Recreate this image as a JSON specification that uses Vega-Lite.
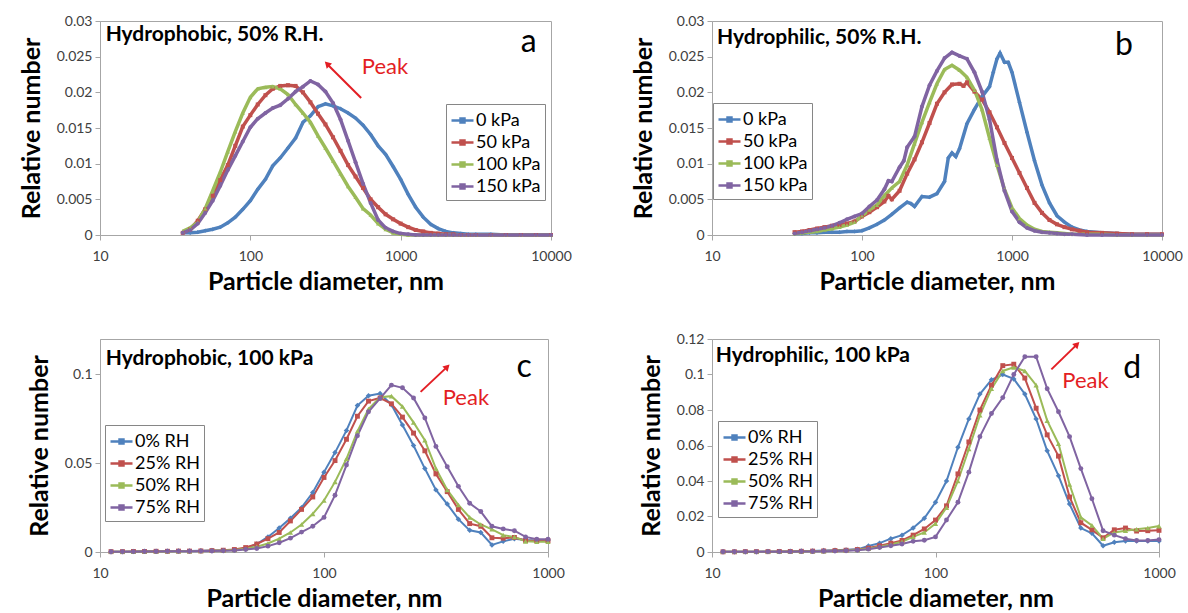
{
"$schema":"https://vega.github.io/schema/vega-lite/v6.json",
"background":"white",
"padding":{"left":18,"top":13,"right":0,"bottom":0},
"config":{
 "font":"Lato",
 "view":{"stroke":"#a6a6a6","strokeWidth":1},
 "axis":{"grid":false,"domainColor":"#a6a6a6","tickColor":"#a6a6a6","tickSize":5,"labelFont":"Lato","labelFontSize":14,"labelColor":"#404040","titleFont":"Lato","titleFontSize":25,"titleFontWeight":"bold","titleColor":"#000","labelFlush":false,"labelOverlap":false,"labelBound":false},
 "axisX":{"labelPadding":9,"titlePadding":6},
 "axisY":{"labelPadding":3,"titlePadding":12},
 "legend":{"title":null,"orient":"none","strokeColor":"#868686","fillColor":"white","padding":4,"rowPadding":0,"labelFontSize":18,"labelFont":"Lato","labelColor":"#000","labelOffset":1}
},
"datasets":{
"a":[
{"s":"0 kPa","x":35.5,"y":0.0003},{"s":"0 kPa","x":39.8,"y":0.0003},{"s":"0 kPa","x":44.7,"y":0.0004},{"s":"0 kPa","x":50.1,"y":0.0006},{"s":"0 kPa","x":56.2,"y":0.0008},{"s":"0 kPa","x":63.1,"y":0.0011},{"s":"0 kPa","x":70.8,"y":0.0017},{"s":"0 kPa","x":79.4,"y":0.0025},{"s":"0 kPa","x":89.1,"y":0.0036},{"s":"0 kPa","x":100,"y":0.0048},{"s":"0 kPa","x":112,"y":0.0064},{"s":"0 kPa","x":126,"y":0.0078},{"s":"0 kPa","x":141,"y":0.0097},{"s":"0 kPa","x":158,"y":0.0108},{"s":"0 kPa","x":178,"y":0.0122},{"s":"0 kPa","x":200,"y":0.0136},{"s":"0 kPa","x":224,"y":0.0158},{"s":"0 kPa","x":251,"y":0.0167},{"s":"0 kPa","x":282,"y":0.018},{"s":"0 kPa","x":316,"y":0.0184},{"s":"0 kPa","x":355,"y":0.0181},{"s":"0 kPa","x":398,"y":0.0177},{"s":"0 kPa","x":447,"y":0.0171},{"s":"0 kPa","x":501,"y":0.0164},{"s":"0 kPa","x":562,"y":0.0154},{"s":"0 kPa","x":631,"y":0.0141},{"s":"0 kPa","x":708,"y":0.0125},{"s":"0 kPa","x":794,"y":0.0113},{"s":"0 kPa","x":891,"y":0.0096},{"s":"0 kPa","x":1000,"y":0.0078},{"s":"0 kPa","x":1122,"y":0.0057},{"s":"0 kPa","x":1259,"y":0.0039},{"s":"0 kPa","x":1413,"y":0.0025},{"s":"0 kPa","x":1585,"y":0.0015},{"s":"0 kPa","x":1778,"y":0.0009},{"s":"0 kPa","x":1995,"y":0.0005},{"s":"0 kPa","x":2239,"y":0.0003},{"s":"0 kPa","x":2512,"y":0.0002},{"s":"0 kPa","x":2818,"y":0.0001},{"s":"0 kPa","x":3162,"y":0.0001},{"s":"0 kPa","x":3981,"y":0.0001},{"s":"0 kPa","x":5012,"y":0},{"s":"0 kPa","x":6310,"y":0},{"s":"0 kPa","x":7943,"y":0},{"s":"0 kPa","x":10000,"y":0},
{"s":"50 kPa","x":35.5,"y":0.0003},{"s":"50 kPa","x":39.8,"y":0.0008},{"s":"50 kPa","x":44.7,"y":0.002},{"s":"50 kPa","x":50.1,"y":0.0036},{"s":"50 kPa","x":56.2,"y":0.0055},{"s":"50 kPa","x":63.1,"y":0.0077},{"s":"50 kPa","x":70.8,"y":0.0098},{"s":"50 kPa","x":79.4,"y":0.0125},{"s":"50 kPa","x":89.1,"y":0.0152},{"s":"50 kPa","x":100,"y":0.0168},{"s":"50 kPa","x":112,"y":0.0183},{"s":"50 kPa","x":126,"y":0.0196},{"s":"50 kPa","x":141,"y":0.0205},{"s":"50 kPa","x":158,"y":0.0209},{"s":"50 kPa","x":178,"y":0.021},{"s":"50 kPa","x":200,"y":0.0209},{"s":"50 kPa","x":224,"y":0.02},{"s":"50 kPa","x":251,"y":0.0186},{"s":"50 kPa","x":282,"y":0.017},{"s":"50 kPa","x":316,"y":0.0155},{"s":"50 kPa","x":355,"y":0.0137},{"s":"50 kPa","x":398,"y":0.0118},{"s":"50 kPa","x":447,"y":0.0098},{"s":"50 kPa","x":501,"y":0.0082},{"s":"50 kPa","x":562,"y":0.0066},{"s":"50 kPa","x":631,"y":0.005},{"s":"50 kPa","x":708,"y":0.0039},{"s":"50 kPa","x":794,"y":0.0029},{"s":"50 kPa","x":891,"y":0.0022},{"s":"50 kPa","x":1000,"y":0.0016},{"s":"50 kPa","x":1122,"y":0.0011},{"s":"50 kPa","x":1259,"y":0.0007},{"s":"50 kPa","x":1413,"y":0.0005},{"s":"50 kPa","x":1585,"y":0.0003},{"s":"50 kPa","x":1778,"y":0.0002},{"s":"50 kPa","x":1995,"y":0.0001},{"s":"50 kPa","x":2239,"y":0.0001},{"s":"50 kPa","x":2512,"y":0},{"s":"50 kPa","x":2818,"y":0},{"s":"50 kPa","x":3162,"y":0},{"s":"50 kPa","x":3981,"y":0},{"s":"50 kPa","x":5012,"y":0},{"s":"50 kPa","x":6310,"y":0},{"s":"50 kPa","x":7943,"y":0},{"s":"50 kPa","x":10000,"y":0},
{"s":"100 kPa","x":35.5,"y":0.0005},{"s":"100 kPa","x":39.8,"y":0.001},{"s":"100 kPa","x":44.7,"y":0.0018},{"s":"100 kPa","x":50.1,"y":0.0037},{"s":"100 kPa","x":56.2,"y":0.0062},{"s":"100 kPa","x":63.1,"y":0.0088},{"s":"100 kPa","x":70.8,"y":0.0117},{"s":"100 kPa","x":79.4,"y":0.0145},{"s":"100 kPa","x":89.1,"y":0.0171},{"s":"100 kPa","x":100,"y":0.0193},{"s":"100 kPa","x":112,"y":0.0205},{"s":"100 kPa","x":126,"y":0.0207},{"s":"100 kPa","x":141,"y":0.0208},{"s":"100 kPa","x":158,"y":0.0205},{"s":"100 kPa","x":178,"y":0.0197},{"s":"100 kPa","x":200,"y":0.0183},{"s":"100 kPa","x":224,"y":0.0171},{"s":"100 kPa","x":251,"y":0.0158},{"s":"100 kPa","x":282,"y":0.0139},{"s":"100 kPa","x":316,"y":0.0122},{"s":"100 kPa","x":355,"y":0.0104},{"s":"100 kPa","x":398,"y":0.0086},{"s":"100 kPa","x":447,"y":0.0068},{"s":"100 kPa","x":501,"y":0.0053},{"s":"100 kPa","x":562,"y":0.0037},{"s":"100 kPa","x":631,"y":0.0028},{"s":"100 kPa","x":708,"y":0.0016},{"s":"100 kPa","x":794,"y":0.0008},{"s":"100 kPa","x":891,"y":0.0003},{"s":"100 kPa","x":1000,"y":0.0001},{"s":"100 kPa","x":1122,"y":0},{"s":"100 kPa","x":1259,"y":0},{"s":"100 kPa","x":1413,"y":0},{"s":"100 kPa","x":1585,"y":0},{"s":"100 kPa","x":1778,"y":0},{"s":"100 kPa","x":1995,"y":0},{"s":"100 kPa","x":2239,"y":0},{"s":"100 kPa","x":2512,"y":0},{"s":"100 kPa","x":2818,"y":0},{"s":"100 kPa","x":3162,"y":0},{"s":"100 kPa","x":3981,"y":0},{"s":"100 kPa","x":5012,"y":0},{"s":"100 kPa","x":6310,"y":0},{"s":"100 kPa","x":7943,"y":0},{"s":"100 kPa","x":10000,"y":0},
{"s":"150 kPa","x":35.5,"y":0.0003},{"s":"150 kPa","x":39.8,"y":0.0007},{"s":"150 kPa","x":44.7,"y":0.0016},{"s":"150 kPa","x":50.1,"y":0.0031},{"s":"150 kPa","x":56.2,"y":0.0048},{"s":"150 kPa","x":63.1,"y":0.0069},{"s":"150 kPa","x":70.8,"y":0.0091},{"s":"150 kPa","x":79.4,"y":0.0111},{"s":"150 kPa","x":89.1,"y":0.0131},{"s":"150 kPa","x":100,"y":0.0151},{"s":"150 kPa","x":112,"y":0.0163},{"s":"150 kPa","x":126,"y":0.0171},{"s":"150 kPa","x":141,"y":0.0178},{"s":"150 kPa","x":158,"y":0.0182},{"s":"150 kPa","x":178,"y":0.0191},{"s":"150 kPa","x":200,"y":0.0201},{"s":"150 kPa","x":224,"y":0.0208},{"s":"150 kPa","x":251,"y":0.0216},{"s":"150 kPa","x":282,"y":0.0211},{"s":"150 kPa","x":316,"y":0.0201},{"s":"150 kPa","x":355,"y":0.0185},{"s":"150 kPa","x":398,"y":0.0162},{"s":"150 kPa","x":447,"y":0.0132},{"s":"150 kPa","x":501,"y":0.0102},{"s":"150 kPa","x":562,"y":0.0072},{"s":"150 kPa","x":631,"y":0.0045},{"s":"150 kPa","x":708,"y":0.0021},{"s":"150 kPa","x":794,"y":0.001},{"s":"150 kPa","x":891,"y":0.0005},{"s":"150 kPa","x":1000,"y":0.0002},{"s":"150 kPa","x":1122,"y":0.0001},{"s":"150 kPa","x":1259,"y":0},{"s":"150 kPa","x":1413,"y":0},{"s":"150 kPa","x":1585,"y":0},{"s":"150 kPa","x":1778,"y":0},{"s":"150 kPa","x":1995,"y":0},{"s":"150 kPa","x":2239,"y":0},{"s":"150 kPa","x":2512,"y":0},{"s":"150 kPa","x":2818,"y":0},{"s":"150 kPa","x":3162,"y":0},{"s":"150 kPa","x":3981,"y":0},{"s":"150 kPa","x":5012,"y":0},{"s":"150 kPa","x":6310,"y":0},{"s":"150 kPa","x":7943,"y":0},{"s":"150 kPa","x":10000,"y":0}
],
"b":[
{"s":"0 kPa","x":35.5,"y":0.0002},{"s":"0 kPa","x":39.8,"y":0.0002},{"s":"0 kPa","x":44.7,"y":0.0003},{"s":"0 kPa","x":50.1,"y":0.0003},{"s":"0 kPa","x":56.2,"y":0.0004},{"s":"0 kPa","x":63.1,"y":0.0004},{"s":"0 kPa","x":70.8,"y":0.0004},{"s":"0 kPa","x":79.4,"y":0.0005},{"s":"0 kPa","x":89.1,"y":0.0005},{"s":"0 kPa","x":100,"y":0.0006},{"s":"0 kPa","x":112,"y":0.001},{"s":"0 kPa","x":126,"y":0.0015},{"s":"0 kPa","x":141,"y":0.0021},{"s":"0 kPa","x":158,"y":0.0029},{"s":"0 kPa","x":178,"y":0.0038},{"s":"0 kPa","x":200,"y":0.0046},{"s":"0 kPa","x":212,"y":0.0044},{"s":"0 kPa","x":224,"y":0.004},{"s":"0 kPa","x":251,"y":0.0054},{"s":"0 kPa","x":282,"y":0.0053},{"s":"0 kPa","x":316,"y":0.0058},{"s":"0 kPa","x":355,"y":0.0075},{"s":"0 kPa","x":376,"y":0.0108},{"s":"0 kPa","x":398,"y":0.0115},{"s":"0 kPa","x":422,"y":0.011},{"s":"0 kPa","x":447,"y":0.0121},{"s":"0 kPa","x":501,"y":0.0156},{"s":"0 kPa","x":562,"y":0.0176},{"s":"0 kPa","x":631,"y":0.0194},{"s":"0 kPa","x":708,"y":0.0208},{"s":"0 kPa","x":750,"y":0.0228},{"s":"0 kPa","x":794,"y":0.0247},{"s":"0 kPa","x":832,"y":0.0255},{"s":"0 kPa","x":891,"y":0.0242},{"s":"0 kPa","x":944,"y":0.0242},{"s":"0 kPa","x":1000,"y":0.0228},{"s":"0 kPa","x":1122,"y":0.0186},{"s":"0 kPa","x":1259,"y":0.0144},{"s":"0 kPa","x":1413,"y":0.0104},{"s":"0 kPa","x":1585,"y":0.007},{"s":"0 kPa","x":1778,"y":0.0045},{"s":"0 kPa","x":1995,"y":0.0027},{"s":"0 kPa","x":2239,"y":0.0018},{"s":"0 kPa","x":2512,"y":0.0011},{"s":"0 kPa","x":2818,"y":0.0007},{"s":"0 kPa","x":3162,"y":0.0005},{"s":"0 kPa","x":3981,"y":0.0003},{"s":"0 kPa","x":5012,"y":0.0002},{"s":"0 kPa","x":6310,"y":0.0001},{"s":"0 kPa","x":7943,"y":0.0001},{"s":"0 kPa","x":10000,"y":0.0001},
{"s":"50 kPa","x":35.5,"y":0.0004},{"s":"50 kPa","x":39.8,"y":0.0005},{"s":"50 kPa","x":44.7,"y":0.0007},{"s":"50 kPa","x":50.1,"y":0.0009},{"s":"50 kPa","x":56.2,"y":0.0011},{"s":"50 kPa","x":63.1,"y":0.0013},{"s":"50 kPa","x":70.8,"y":0.0014},{"s":"50 kPa","x":79.4,"y":0.0016},{"s":"50 kPa","x":89.1,"y":0.0019},{"s":"50 kPa","x":100,"y":0.0026},{"s":"50 kPa","x":112,"y":0.0032},{"s":"50 kPa","x":126,"y":0.0039},{"s":"50 kPa","x":141,"y":0.0047},{"s":"50 kPa","x":150,"y":0.0055},{"s":"50 kPa","x":158,"y":0.005},{"s":"50 kPa","x":178,"y":0.0062},{"s":"50 kPa","x":200,"y":0.0086},{"s":"50 kPa","x":224,"y":0.0106},{"s":"50 kPa","x":251,"y":0.013},{"s":"50 kPa","x":282,"y":0.0157},{"s":"50 kPa","x":316,"y":0.0184},{"s":"50 kPa","x":355,"y":0.02},{"s":"50 kPa","x":398,"y":0.0211},{"s":"50 kPa","x":447,"y":0.0212},{"s":"50 kPa","x":475,"y":0.0209},{"s":"50 kPa","x":501,"y":0.0214},{"s":"50 kPa","x":562,"y":0.0201},{"s":"50 kPa","x":631,"y":0.019},{"s":"50 kPa","x":708,"y":0.0172},{"s":"50 kPa","x":794,"y":0.0151},{"s":"50 kPa","x":891,"y":0.0129},{"s":"50 kPa","x":1000,"y":0.0108},{"s":"50 kPa","x":1122,"y":0.0087},{"s":"50 kPa","x":1259,"y":0.0066},{"s":"50 kPa","x":1413,"y":0.0045},{"s":"50 kPa","x":1585,"y":0.0031},{"s":"50 kPa","x":1778,"y":0.0021},{"s":"50 kPa","x":1995,"y":0.0015},{"s":"50 kPa","x":2239,"y":0.0011},{"s":"50 kPa","x":2512,"y":0.0008},{"s":"50 kPa","x":2818,"y":0.0006},{"s":"50 kPa","x":3162,"y":0.0004},{"s":"50 kPa","x":3981,"y":0.0003},{"s":"50 kPa","x":5012,"y":0.0002},{"s":"50 kPa","x":6310,"y":0.0001},{"s":"50 kPa","x":7943,"y":0.0001},{"s":"50 kPa","x":10000,"y":0.0001},
{"s":"100 kPa","x":35.5,"y":0.0002},{"s":"100 kPa","x":39.8,"y":0.0003},{"s":"100 kPa","x":44.7,"y":0.0004},{"s":"100 kPa","x":50.1,"y":0.0005},{"s":"100 kPa","x":56.2,"y":0.0007},{"s":"100 kPa","x":63.1,"y":0.0009},{"s":"100 kPa","x":70.8,"y":0.0011},{"s":"100 kPa","x":79.4,"y":0.0014},{"s":"100 kPa","x":89.1,"y":0.0018},{"s":"100 kPa","x":100,"y":0.0027},{"s":"100 kPa","x":112,"y":0.0035},{"s":"100 kPa","x":126,"y":0.0042},{"s":"100 kPa","x":141,"y":0.0055},{"s":"100 kPa","x":158,"y":0.0066},{"s":"100 kPa","x":178,"y":0.0075},{"s":"100 kPa","x":200,"y":0.0098},{"s":"100 kPa","x":224,"y":0.0128},{"s":"100 kPa","x":251,"y":0.0158},{"s":"100 kPa","x":282,"y":0.0186},{"s":"100 kPa","x":316,"y":0.0212},{"s":"100 kPa","x":355,"y":0.0232},{"s":"100 kPa","x":398,"y":0.0238},{"s":"100 kPa","x":447,"y":0.0231},{"s":"100 kPa","x":501,"y":0.0221},{"s":"100 kPa","x":562,"y":0.0203},{"s":"100 kPa","x":631,"y":0.0176},{"s":"100 kPa","x":708,"y":0.0136},{"s":"100 kPa","x":794,"y":0.0098},{"s":"100 kPa","x":891,"y":0.0064},{"s":"100 kPa","x":1000,"y":0.0038},{"s":"100 kPa","x":1122,"y":0.0023},{"s":"100 kPa","x":1259,"y":0.0014},{"s":"100 kPa","x":1413,"y":0.0008},{"s":"100 kPa","x":1585,"y":0.0005},{"s":"100 kPa","x":1778,"y":0.0004},{"s":"100 kPa","x":1995,"y":0.0003},{"s":"100 kPa","x":2239,"y":0.0002},{"s":"100 kPa","x":2512,"y":0.0001},{"s":"100 kPa","x":3162,"y":0.0001},{"s":"100 kPa","x":3981,"y":0.0001},{"s":"100 kPa","x":5012,"y":0},{"s":"100 kPa","x":6310,"y":0},{"s":"100 kPa","x":7943,"y":0},{"s":"100 kPa","x":10000,"y":0},
{"s":"150 kPa","x":35.5,"y":0.0002},{"s":"150 kPa","x":39.8,"y":0.0004},{"s":"150 kPa","x":44.7,"y":0.0006},{"s":"150 kPa","x":50.1,"y":0.0008},{"s":"150 kPa","x":56.2,"y":0.001},{"s":"150 kPa","x":63.1,"y":0.0013},{"s":"150 kPa","x":70.8,"y":0.0017},{"s":"150 kPa","x":79.4,"y":0.0022},{"s":"150 kPa","x":89.1,"y":0.0026},{"s":"150 kPa","x":100,"y":0.003},{"s":"150 kPa","x":112,"y":0.004},{"s":"150 kPa","x":126,"y":0.0049},{"s":"150 kPa","x":141,"y":0.0064},{"s":"150 kPa","x":150,"y":0.0076},{"s":"150 kPa","x":158,"y":0.0075},{"s":"150 kPa","x":178,"y":0.0095},{"s":"150 kPa","x":190,"y":0.0104},{"s":"150 kPa","x":200,"y":0.0123},{"s":"150 kPa","x":224,"y":0.0138},{"s":"150 kPa","x":251,"y":0.018},{"s":"150 kPa","x":282,"y":0.021},{"s":"150 kPa","x":316,"y":0.023},{"s":"150 kPa","x":355,"y":0.0248},{"s":"150 kPa","x":398,"y":0.0256},{"s":"150 kPa","x":447,"y":0.0251},{"s":"150 kPa","x":501,"y":0.0247},{"s":"150 kPa","x":562,"y":0.0228},{"s":"150 kPa","x":631,"y":0.0201},{"s":"150 kPa","x":708,"y":0.0162},{"s":"150 kPa","x":794,"y":0.0105},{"s":"150 kPa","x":891,"y":0.0062},{"s":"150 kPa","x":1000,"y":0.0033},{"s":"150 kPa","x":1122,"y":0.0018},{"s":"150 kPa","x":1259,"y":0.001},{"s":"150 kPa","x":1413,"y":0.0006},{"s":"150 kPa","x":1585,"y":0.0004},{"s":"150 kPa","x":1778,"y":0.0003},{"s":"150 kPa","x":1995,"y":0.0002},{"s":"150 kPa","x":2239,"y":0.0001},{"s":"150 kPa","x":2512,"y":0.0001},{"s":"150 kPa","x":3162,"y":0},{"s":"150 kPa","x":3981,"y":0},{"s":"150 kPa","x":5012,"y":0},{"s":"150 kPa","x":6310,"y":0},{"s":"150 kPa","x":7943,"y":0},{"s":"150 kPa","x":10000,"y":0}
],
"c":[
{"s":"0% RH","x":11.2,"y":0.0001},{"s":"0% RH","x":12.6,"y":0.0002},{"s":"0% RH","x":14.1,"y":0.0003},{"s":"0% RH","x":15.8,"y":0.0004},{"s":"0% RH","x":17.8,"y":0.0004},{"s":"0% RH","x":20,"y":0.0004},{"s":"0% RH","x":22.4,"y":0.0005},{"s":"0% RH","x":25.1,"y":0.0006},{"s":"0% RH","x":28.2,"y":0.0007},{"s":"0% RH","x":31.6,"y":0.0008},{"s":"0% RH","x":35.5,"y":0.0009},{"s":"0% RH","x":39.8,"y":0.0012},{"s":"0% RH","x":44.7,"y":0.002},{"s":"0% RH","x":50.1,"y":0.0045},{"s":"0% RH","x":56.2,"y":0.0085},{"s":"0% RH","x":63.1,"y":0.0135},{"s":"0% RH","x":70.8,"y":0.019},{"s":"0% RH","x":79.4,"y":0.025},{"s":"0% RH","x":89.1,"y":0.0335},{"s":"0% RH","x":100,"y":0.045},{"s":"0% RH","x":112,"y":0.056},{"s":"0% RH","x":126,"y":0.0685},{"s":"0% RH","x":141,"y":0.0825},{"s":"0% RH","x":158,"y":0.088},{"s":"0% RH","x":178,"y":0.0893},{"s":"0% RH","x":200,"y":0.083},{"s":"0% RH","x":224,"y":0.0715},{"s":"0% RH","x":251,"y":0.06},{"s":"0% RH","x":282,"y":0.047},{"s":"0% RH","x":316,"y":0.035},{"s":"0% RH","x":355,"y":0.027},{"s":"0% RH","x":398,"y":0.0185},{"s":"0% RH","x":447,"y":0.0122},{"s":"0% RH","x":501,"y":0.011},{"s":"0% RH","x":562,"y":0.004},{"s":"0% RH","x":631,"y":0.006},{"s":"0% RH","x":708,"y":0.0075},{"s":"0% RH","x":794,"y":0.0068},{"s":"0% RH","x":891,"y":0.0065},{"s":"0% RH","x":1000,"y":0.0065},
{"s":"25% RH","x":11.2,"y":0.0002},{"s":"25% RH","x":12.6,"y":0.0002},{"s":"25% RH","x":14.1,"y":0.0003},{"s":"25% RH","x":15.8,"y":0.0003},{"s":"25% RH","x":17.8,"y":0.0004},{"s":"25% RH","x":20,"y":0.0004},{"s":"25% RH","x":22.4,"y":0.0005},{"s":"25% RH","x":25.1,"y":0.0005},{"s":"25% RH","x":28.2,"y":0.0006},{"s":"25% RH","x":31.6,"y":0.0008},{"s":"25% RH","x":35.5,"y":0.001},{"s":"25% RH","x":39.8,"y":0.0014},{"s":"25% RH","x":44.7,"y":0.0025},{"s":"25% RH","x":50.1,"y":0.0045},{"s":"25% RH","x":56.2,"y":0.0075},{"s":"25% RH","x":63.1,"y":0.011},{"s":"25% RH","x":70.8,"y":0.0175},{"s":"25% RH","x":79.4,"y":0.024},{"s":"25% RH","x":89.1,"y":0.031},{"s":"25% RH","x":100,"y":0.042},{"s":"25% RH","x":112,"y":0.0515},{"s":"25% RH","x":126,"y":0.0635},{"s":"25% RH","x":141,"y":0.0765},{"s":"25% RH","x":158,"y":0.085},{"s":"25% RH","x":178,"y":0.0868},{"s":"25% RH","x":200,"y":0.0835},{"s":"25% RH","x":224,"y":0.076},{"s":"25% RH","x":251,"y":0.067},{"s":"25% RH","x":282,"y":0.057},{"s":"25% RH","x":316,"y":0.044},{"s":"25% RH","x":355,"y":0.034},{"s":"25% RH","x":398,"y":0.024},{"s":"25% RH","x":447,"y":0.016},{"s":"25% RH","x":501,"y":0.0145},{"s":"25% RH","x":562,"y":0.008},{"s":"25% RH","x":631,"y":0.0078},{"s":"25% RH","x":708,"y":0.0082},{"s":"25% RH","x":794,"y":0.0065},{"s":"25% RH","x":891,"y":0.0064},{"s":"25% RH","x":1000,"y":0.0064},
{"s":"50% RH","x":11.2,"y":0.0001},{"s":"50% RH","x":12.6,"y":0.0002},{"s":"50% RH","x":14.1,"y":0.0002},{"s":"50% RH","x":15.8,"y":0.0003},{"s":"50% RH","x":17.8,"y":0.0003},{"s":"50% RH","x":20,"y":0.0004},{"s":"50% RH","x":22.4,"y":0.0004},{"s":"50% RH","x":25.1,"y":0.0005},{"s":"50% RH","x":28.2,"y":0.0006},{"s":"50% RH","x":31.6,"y":0.0007},{"s":"50% RH","x":35.5,"y":0.0009},{"s":"50% RH","x":39.8,"y":0.0011},{"s":"50% RH","x":44.7,"y":0.0018},{"s":"50% RH","x":50.1,"y":0.003},{"s":"50% RH","x":56.2,"y":0.0048},{"s":"50% RH","x":63.1,"y":0.0075},{"s":"50% RH","x":70.8,"y":0.011},{"s":"50% RH","x":79.4,"y":0.0155},{"s":"50% RH","x":89.1,"y":0.0215},{"s":"50% RH","x":100,"y":0.029},{"s":"50% RH","x":112,"y":0.0395},{"s":"50% RH","x":126,"y":0.0525},{"s":"50% RH","x":141,"y":0.068},{"s":"50% RH","x":158,"y":0.0805},{"s":"50% RH","x":178,"y":0.0872},{"s":"50% RH","x":200,"y":0.0878},{"s":"50% RH","x":224,"y":0.082},{"s":"50% RH","x":251,"y":0.073},{"s":"50% RH","x":282,"y":0.063},{"s":"50% RH","x":316,"y":0.047},{"s":"50% RH","x":355,"y":0.035},{"s":"50% RH","x":398,"y":0.0265},{"s":"50% RH","x":447,"y":0.0195},{"s":"50% RH","x":501,"y":0.0155},{"s":"50% RH","x":562,"y":0.0128},{"s":"50% RH","x":631,"y":0.0095},{"s":"50% RH","x":708,"y":0.0085},{"s":"50% RH","x":794,"y":0.006},{"s":"50% RH","x":891,"y":0.0058},{"s":"50% RH","x":1000,"y":0.0058},
{"s":"75% RH","x":11.2,"y":0.0001},{"s":"75% RH","x":12.6,"y":0.0002},{"s":"75% RH","x":14.1,"y":0.0002},{"s":"75% RH","x":15.8,"y":0.0003},{"s":"75% RH","x":17.8,"y":0.0003},{"s":"75% RH","x":20,"y":0.0004},{"s":"75% RH","x":22.4,"y":0.0004},{"s":"75% RH","x":25.1,"y":0.0004},{"s":"75% RH","x":28.2,"y":0.0005},{"s":"75% RH","x":31.6,"y":0.0006},{"s":"75% RH","x":35.5,"y":0.0007},{"s":"75% RH","x":39.8,"y":0.0009},{"s":"75% RH","x":44.7,"y":0.0014},{"s":"75% RH","x":50.1,"y":0.002},{"s":"75% RH","x":56.2,"y":0.0033},{"s":"75% RH","x":63.1,"y":0.0052},{"s":"75% RH","x":70.8,"y":0.0078},{"s":"75% RH","x":79.4,"y":0.0112},{"s":"75% RH","x":89.1,"y":0.0145},{"s":"75% RH","x":100,"y":0.0195},{"s":"75% RH","x":112,"y":0.032},{"s":"75% RH","x":126,"y":0.049},{"s":"75% RH","x":141,"y":0.0655},{"s":"75% RH","x":158,"y":0.079},{"s":"75% RH","x":178,"y":0.0865},{"s":"75% RH","x":200,"y":0.094},{"s":"75% RH","x":224,"y":0.0925},{"s":"75% RH","x":251,"y":0.0868},{"s":"75% RH","x":282,"y":0.0755},{"s":"75% RH","x":316,"y":0.0595},{"s":"75% RH","x":355,"y":0.048},{"s":"75% RH","x":398,"y":0.037},{"s":"75% RH","x":447,"y":0.0275},{"s":"75% RH","x":501,"y":0.0228},{"s":"75% RH","x":562,"y":0.0145},{"s":"75% RH","x":631,"y":0.013},{"s":"75% RH","x":708,"y":0.012},{"s":"75% RH","x":794,"y":0.0085},{"s":"75% RH","x":891,"y":0.0072},{"s":"75% RH","x":1000,"y":0.0072}
],
"d":[
{"s":"0% RH","x":11.2,"y":0.0002},{"s":"0% RH","x":12.6,"y":0.0002},{"s":"0% RH","x":14.1,"y":0.0002},{"s":"0% RH","x":15.8,"y":0.0002},{"s":"0% RH","x":17.8,"y":0.0003},{"s":"0% RH","x":20,"y":0.0003},{"s":"0% RH","x":22.4,"y":0.0004},{"s":"0% RH","x":25.1,"y":0.0005},{"s":"0% RH","x":28.2,"y":0.0006},{"s":"0% RH","x":31.6,"y":0.0008},{"s":"0% RH","x":35.5,"y":0.001},{"s":"0% RH","x":39.8,"y":0.0012},{"s":"0% RH","x":44.7,"y":0.0015},{"s":"0% RH","x":50.1,"y":0.0034},{"s":"0% RH","x":56.2,"y":0.005},{"s":"0% RH","x":63.1,"y":0.0075},{"s":"0% RH","x":70.8,"y":0.0095},{"s":"0% RH","x":79.4,"y":0.0135},{"s":"0% RH","x":89.1,"y":0.019},{"s":"0% RH","x":100,"y":0.028},{"s":"0% RH","x":112,"y":0.04},{"s":"0% RH","x":126,"y":0.059},{"s":"0% RH","x":141,"y":0.075},{"s":"0% RH","x":158,"y":0.089},{"s":"0% RH","x":178,"y":0.097},{"s":"0% RH","x":200,"y":0.1},{"s":"0% RH","x":224,"y":0.0975},{"s":"0% RH","x":251,"y":0.089},{"s":"0% RH","x":282,"y":0.075},{"s":"0% RH","x":316,"y":0.057},{"s":"0% RH","x":355,"y":0.043},{"s":"0% RH","x":398,"y":0.027},{"s":"0% RH","x":447,"y":0.0135},{"s":"0% RH","x":501,"y":0.0105},{"s":"0% RH","x":562,"y":0.0035},{"s":"0% RH","x":631,"y":0.0055},{"s":"0% RH","x":708,"y":0.0062},{"s":"0% RH","x":794,"y":0.0062},{"s":"0% RH","x":891,"y":0.0062},{"s":"0% RH","x":1000,"y":0.0062},
{"s":"25% RH","x":11.2,"y":0.0001},{"s":"25% RH","x":12.6,"y":0.0001},{"s":"25% RH","x":14.1,"y":0.0002},{"s":"25% RH","x":15.8,"y":0.0002},{"s":"25% RH","x":17.8,"y":0.0002},{"s":"25% RH","x":20,"y":0.0003},{"s":"25% RH","x":22.4,"y":0.0003},{"s":"25% RH","x":25.1,"y":0.0004},{"s":"25% RH","x":28.2,"y":0.0005},{"s":"25% RH","x":31.6,"y":0.0006},{"s":"25% RH","x":35.5,"y":0.0008},{"s":"25% RH","x":39.8,"y":0.001},{"s":"25% RH","x":44.7,"y":0.0014},{"s":"25% RH","x":50.1,"y":0.0022},{"s":"25% RH","x":56.2,"y":0.0035},{"s":"25% RH","x":63.1,"y":0.005},{"s":"25% RH","x":70.8,"y":0.0065},{"s":"25% RH","x":79.4,"y":0.0095},{"s":"25% RH","x":89.1,"y":0.013},{"s":"25% RH","x":100,"y":0.018},{"s":"25% RH","x":112,"y":0.026},{"s":"25% RH","x":126,"y":0.044},{"s":"25% RH","x":141,"y":0.062},{"s":"25% RH","x":158,"y":0.08},{"s":"25% RH","x":178,"y":0.094},{"s":"25% RH","x":200,"y":0.105},{"s":"25% RH","x":224,"y":0.1058},{"s":"25% RH","x":251,"y":0.098},{"s":"25% RH","x":282,"y":0.081},{"s":"25% RH","x":316,"y":0.066},{"s":"25% RH","x":355,"y":0.054},{"s":"25% RH","x":398,"y":0.031},{"s":"25% RH","x":447,"y":0.0165},{"s":"25% RH","x":501,"y":0.0125},{"s":"25% RH","x":562,"y":0.008},{"s":"25% RH","x":631,"y":0.0125},{"s":"25% RH","x":708,"y":0.0135},{"s":"25% RH","x":794,"y":0.0118},{"s":"25% RH","x":891,"y":0.012},{"s":"25% RH","x":1000,"y":0.0122},
{"s":"50% RH","x":11.2,"y":0.0001},{"s":"50% RH","x":12.6,"y":0.0001},{"s":"50% RH","x":14.1,"y":0.0001},{"s":"50% RH","x":15.8,"y":0.0002},{"s":"50% RH","x":17.8,"y":0.0002},{"s":"50% RH","x":20,"y":0.0002},{"s":"50% RH","x":22.4,"y":0.0003},{"s":"50% RH","x":25.1,"y":0.0003},{"s":"50% RH","x":28.2,"y":0.0004},{"s":"50% RH","x":31.6,"y":0.0005},{"s":"50% RH","x":35.5,"y":0.0007},{"s":"50% RH","x":39.8,"y":0.0009},{"s":"50% RH","x":44.7,"y":0.0012},{"s":"50% RH","x":50.1,"y":0.0018},{"s":"50% RH","x":56.2,"y":0.003},{"s":"50% RH","x":63.1,"y":0.0042},{"s":"50% RH","x":70.8,"y":0.0058},{"s":"50% RH","x":79.4,"y":0.0085},{"s":"50% RH","x":89.1,"y":0.011},{"s":"50% RH","x":100,"y":0.016},{"s":"50% RH","x":112,"y":0.025},{"s":"50% RH","x":126,"y":0.04},{"s":"50% RH","x":141,"y":0.058},{"s":"50% RH","x":158,"y":0.077},{"s":"50% RH","x":178,"y":0.092},{"s":"50% RH","x":200,"y":0.102},{"s":"50% RH","x":224,"y":0.104},{"s":"50% RH","x":251,"y":0.102},{"s":"50% RH","x":282,"y":0.094},{"s":"50% RH","x":316,"y":0.074},{"s":"50% RH","x":355,"y":0.061},{"s":"50% RH","x":398,"y":0.038},{"s":"50% RH","x":447,"y":0.0195},{"s":"50% RH","x":501,"y":0.015},{"s":"50% RH","x":562,"y":0.0075},{"s":"50% RH","x":631,"y":0.011},{"s":"50% RH","x":708,"y":0.012},{"s":"50% RH","x":794,"y":0.0128},{"s":"50% RH","x":891,"y":0.0135},{"s":"50% RH","x":1000,"y":0.0146},
{"s":"75% RH","x":11.2,"y":0.0001},{"s":"75% RH","x":12.6,"y":0.0001},{"s":"75% RH","x":14.1,"y":0.0001},{"s":"75% RH","x":15.8,"y":0.0001},{"s":"75% RH","x":17.8,"y":0.0002},{"s":"75% RH","x":20,"y":0.0002},{"s":"75% RH","x":22.4,"y":0.0002},{"s":"75% RH","x":25.1,"y":0.0003},{"s":"75% RH","x":28.2,"y":0.0003},{"s":"75% RH","x":31.6,"y":0.0004},{"s":"75% RH","x":35.5,"y":0.0005},{"s":"75% RH","x":39.8,"y":0.0007},{"s":"75% RH","x":44.7,"y":0.001},{"s":"75% RH","x":50.1,"y":0.0016},{"s":"75% RH","x":56.2,"y":0.0025},{"s":"75% RH","x":63.1,"y":0.0035},{"s":"75% RH","x":70.8,"y":0.0045},{"s":"75% RH","x":79.4,"y":0.006},{"s":"75% RH","x":89.1,"y":0.0066},{"s":"75% RH","x":100,"y":0.0085},{"s":"75% RH","x":112,"y":0.018},{"s":"75% RH","x":126,"y":0.028},{"s":"75% RH","x":141,"y":0.045},{"s":"75% RH","x":158,"y":0.065},{"s":"75% RH","x":178,"y":0.078},{"s":"75% RH","x":200,"y":0.087},{"s":"75% RH","x":224,"y":0.1},{"s":"75% RH","x":251,"y":0.11},{"s":"75% RH","x":282,"y":0.11},{"s":"75% RH","x":316,"y":0.092},{"s":"75% RH","x":355,"y":0.079},{"s":"75% RH","x":398,"y":0.065},{"s":"75% RH","x":447,"y":0.047},{"s":"75% RH","x":501,"y":0.03},{"s":"75% RH","x":562,"y":0.012},{"s":"75% RH","x":631,"y":0.0095},{"s":"75% RH","x":708,"y":0.0075},{"s":"75% RH","x":794,"y":0.0065},{"s":"75% RH","x":891,"y":0.0065},{"s":"75% RH","x":1000,"y":0.007}
]
},
"columns":2,
"spacing":{"row":104,"column":161},
"bounds":"flush",
"resolve":{"scale":{"x":"independent","y":"independent","color":"independent"},"legend":{"color":"independent"}},
"concat":[
{
 "width":451,"height":214,
 "layer":[
  {"data":{"name":"a"},"mark":{"type":"line","strokeWidth":3.5},"encoding":{
    "x":{"field":"x","type":"quantitative","scale":{"type":"log","domain":[10,10000]},"axis":{"values":[10,100,1000,10000],"format":"d","title":"Particle diameter, nm","labelOverlap":false}},
    "y":{"field":"y","type":"quantitative","scale":{"domain":[0,0.03]},"axis":{"values":[0,0.005,0.01,0.015,0.02,0.025,0.03],"format":".3~f","title":"Relative number","labelOverlap":false}},
    "color":{"field":"s","type":"nominal","scale":{"domain":["0 kPa","50 kPa","100 kPa","150 kPa"],"range":["#4f81bd","#c0504d","#9bbb59","#8064a2"]},"legend":{"legendX":346,"legendY":83,"symbolType":"M-1,0L1,0M-0.18,-0.18L0.18,-0.18L0.18,0.18L-0.18,0.18Z","symbolSize":484,"symbolStrokeWidth":2.5}}}},
  {"data":{"name":"a"},"transform":[{"filter":"datum.s==='0 kPa'"}],"mark":{"type":"point","shape":"diamond","filled":true,"color":"#4f81bd","size":18,"opacity":1},"encoding":{"x":{"field":"x","type":"quantitative","axis":{"values":[10,100,1000,10000],"format":"d","title":"Particle diameter, nm","labelOverlap":false}},"y":{"field":"y","type":"quantitative","axis":{"values":[0,0.005,0.01,0.015,0.02,0.025,0.03],"format":".3~f","title":"Relative number","labelOverlap":false}}}},
  {"data":{"name":"a"},"transform":[{"filter":"datum.s==='50 kPa'"}],"mark":{"type":"point","shape":"square","filled":true,"color":"#c0504d","size":16,"opacity":1},"encoding":{"x":{"field":"x","type":"quantitative","axis":{"values":[10,100,1000,10000],"format":"d","title":"Particle diameter, nm","labelOverlap":false}},"y":{"field":"y","type":"quantitative","axis":{"values":[0,0.005,0.01,0.015,0.02,0.025,0.03],"format":".3~f","title":"Relative number","labelOverlap":false}}}},
  {"data":{"name":"a"},"transform":[{"filter":"datum.s==='100 kPa'"}],"mark":{"type":"point","shape":"triangle-up","filled":true,"color":"#9bbb59","size":18,"opacity":1},"encoding":{"x":{"field":"x","type":"quantitative","axis":{"values":[10,100,1000,10000],"format":"d","title":"Particle diameter, nm","labelOverlap":false}},"y":{"field":"y","type":"quantitative","axis":{"values":[0,0.005,0.01,0.015,0.02,0.025,0.03],"format":".3~f","title":"Relative number","labelOverlap":false}}}},
  {"data":{"name":"a"},"transform":[{"filter":"datum.s==='150 kPa'"}],"mark":{"type":"point","shape":"circle","filled":true,"color":"#8064a2","size":16,"opacity":1},"encoding":{"x":{"field":"x","type":"quantitative","axis":{"values":[10,100,1000,10000],"format":"d","title":"Particle diameter, nm","labelOverlap":false}},"y":{"field":"y","type":"quantitative","axis":{"values":[0,0.005,0.01,0.015,0.02,0.025,0.03],"format":".3~f","title":"Relative number","labelOverlap":false}}}},
  {"data":{"values":[{}]},"mark":{"type":"text","align":"left","baseline":"middle","fontSize":21,"fontWeight":"bold","font":"Lato","color":"#000"},"encoding":{"x":{"datum":10.9,"type":"quantitative","axis":{"values":[10,100,1000,10000],"format":"d","title":"Particle diameter, nm","labelOverlap":false}},"y":{"datum":0.028,"type":"quantitative","axis":{"values":[0,0.005,0.01,0.015,0.02,0.025,0.03],"format":".3~f","title":"Relative number","labelOverlap":false}},"text":{"value":"Hydrophobic, 50% R.H."}}},
  {"data":{"values":[{}]},"mark":{"type":"text","align":"center","baseline":"middle","fontSize":32,"font":"Lato","color":"#000"},"encoding":{"x":{"datum":7100,"type":"quantitative","axis":{"values":[10,100,1000,10000],"format":"d","title":"Particle diameter, nm","labelOverlap":false}},"y":{"datum":0.027,"type":"quantitative","axis":{"values":[0,0.005,0.01,0.015,0.02,0.025,0.03],"format":".3~f","title":"Relative number","labelOverlap":false}},"text":{"value":"a"}}},
  {"data":{"values":[{}]},"mark":{"type":"text","align":"center","baseline":"middle","fontSize":22,"font":"Lato","color":"#e31e24"},"encoding":{"x":{"datum":787,"type":"quantitative","axis":{"values":[10,100,1000,10000],"format":"d","title":"Particle diameter, nm","labelOverlap":false}},"y":{"datum":0.0235,"type":"quantitative","axis":{"values":[0,0.005,0.01,0.015,0.02,0.025,0.03],"format":".3~f","title":"Relative number","labelOverlap":false}},"text":{"value":"Peak"}}},
  {"data":{"values":[{}]},"mark":{"type":"rule","color":"#e31e24","strokeWidth":2},"encoding":{"x":{"datum":546,"type":"quantitative","axis":{"values":[10,100,1000,10000],"format":"d","title":"Particle diameter, nm","labelOverlap":false}},"y":{"datum":0.0192,"type":"quantitative","axis":{"values":[0,0.005,0.01,0.015,0.02,0.025,0.03],"format":".3~f","title":"Relative number","labelOverlap":false}},"x2":{"datum":330},"y2":{"datum":0.0238}}},
  {"data":{"values":[{}]},"mark":{"type":"point","shape":"triangle-up","filled":true,"color":"#e31e24","size":55,"angle":315,"opacity":1},"encoding":{"x":{"datum":324,"type":"quantitative","axis":{"values":[10,100,1000,10000],"format":"d","title":"Particle diameter, nm","labelOverlap":false}},"y":{"datum":0.024,"type":"quantitative","axis":{"values":[0,0.005,0.01,0.015,0.02,0.025,0.03],"format":".3~f","title":"Relative number","labelOverlap":false}}}}
 ]
},
{
 "width":450,"height":214,
 "layer":[
  {"data":{"name":"b"},"mark":{"type":"line","strokeWidth":3.5},"encoding":{
    "x":{"field":"x","type":"quantitative","scale":{"type":"log","domain":[10,10000]},"axis":{"values":[10,100,1000,10000],"format":"d","title":"Particle diameter, nm","labelOverlap":false}},
    "y":{"field":"y","type":"quantitative","scale":{"domain":[0,0.03]},"axis":{"values":[0,0.005,0.01,0.015,0.02,0.025,0.03],"format":".3~f","title":"Relative number","labelOverlap":false}},
    "color":{"field":"s","type":"nominal","scale":{"domain":["0 kPa","50 kPa","100 kPa","150 kPa"],"range":["#4f81bd","#c0504d","#9bbb59","#8064a2"]},"legend":{"legendX":1,"legendY":82,"symbolType":"M-1,0L1,0M-0.18,-0.18L0.18,-0.18L0.18,0.18L-0.18,0.18Z","symbolSize":484,"symbolStrokeWidth":2.5}}}},
  {"data":{"name":"b"},"transform":[{"filter":"datum.s==='0 kPa'"}],"mark":{"type":"point","shape":"diamond","filled":true,"color":"#4f81bd","size":18,"opacity":1},"encoding":{"x":{"field":"x","type":"quantitative","axis":{"values":[10,100,1000,10000],"format":"d","title":"Particle diameter, nm","labelOverlap":false}},"y":{"field":"y","type":"quantitative","axis":{"values":[0,0.005,0.01,0.015,0.02,0.025,0.03],"format":".3~f","title":"Relative number","labelOverlap":false}}}},
  {"data":{"name":"b"},"transform":[{"filter":"datum.s==='50 kPa'"}],"mark":{"type":"point","shape":"square","filled":true,"color":"#c0504d","size":16,"opacity":1},"encoding":{"x":{"field":"x","type":"quantitative","axis":{"values":[10,100,1000,10000],"format":"d","title":"Particle diameter, nm","labelOverlap":false}},"y":{"field":"y","type":"quantitative","axis":{"values":[0,0.005,0.01,0.015,0.02,0.025,0.03],"format":".3~f","title":"Relative number","labelOverlap":false}}}},
  {"data":{"name":"b"},"transform":[{"filter":"datum.s==='100 kPa'"}],"mark":{"type":"point","shape":"triangle-up","filled":true,"color":"#9bbb59","size":18,"opacity":1},"encoding":{"x":{"field":"x","type":"quantitative","axis":{"values":[10,100,1000,10000],"format":"d","title":"Particle diameter, nm","labelOverlap":false}},"y":{"field":"y","type":"quantitative","axis":{"values":[0,0.005,0.01,0.015,0.02,0.025,0.03],"format":".3~f","title":"Relative number","labelOverlap":false}}}},
  {"data":{"name":"b"},"transform":[{"filter":"datum.s==='150 kPa'"}],"mark":{"type":"point","shape":"circle","filled":true,"color":"#8064a2","size":16,"opacity":1},"encoding":{"x":{"field":"x","type":"quantitative","axis":{"values":[10,100,1000,10000],"format":"d","title":"Particle diameter, nm","labelOverlap":false}},"y":{"field":"y","type":"quantitative","axis":{"values":[0,0.005,0.01,0.015,0.02,0.025,0.03],"format":".3~f","title":"Relative number","labelOverlap":false}}}},
  {"data":{"values":[{}]},"mark":{"type":"text","align":"left","baseline":"middle","fontSize":21,"fontWeight":"bold","font":"Lato","color":"#000"},"encoding":{"x":{"datum":10.8,"type":"quantitative","axis":{"values":[10,100,1000,10000],"format":"d","title":"Particle diameter, nm","labelOverlap":false}},"y":{"datum":0.0276,"type":"quantitative","axis":{"values":[0,0.005,0.01,0.015,0.02,0.025,0.03],"format":".3~f","title":"Relative number","labelOverlap":false}},"text":{"value":"Hydrophilic, 50% R.H."}}},
  {"data":{"values":[{}]},"mark":{"type":"text","align":"center","baseline":"middle","fontSize":32,"font":"Lato","color":"#000"},"encoding":{"x":{"datum":5580,"type":"quantitative","axis":{"values":[10,100,1000,10000],"format":"d","title":"Particle diameter, nm","labelOverlap":false}},"y":{"datum":0.0266,"type":"quantitative","axis":{"values":[0,0.005,0.01,0.015,0.02,0.025,0.03],"format":".3~f","title":"Relative number","labelOverlap":false}},"text":{"value":"b"}}}
 ]
},
{
 "width":448,"height":213,
 "layer":[
  {"data":{"name":"c"},"mark":{"type":"line","strokeWidth":2},"encoding":{
    "x":{"field":"x","type":"quantitative","scale":{"type":"log","domain":[10,1000]},"axis":{"values":[10,100,1000],"format":"d","title":"Particle diameter, nm","labelOverlap":false}},
    "y":{"field":"y","type":"quantitative","scale":{"domain":[0,0.12]},"axis":{"values":[0,0.05,0.1],"format":".3~f","title":"Relative number","labelOverlap":false}},
    "color":{"field":"s","type":"nominal","scale":{"domain":["0% RH","25% RH","50% RH","75% RH"],"range":["#4f81bd","#c0504d","#9bbb59","#8064a2"]},"legend":{"legendX":5,"legendY":86,"symbolType":"M-1,0L1,0M-0.18,-0.18L0.18,-0.18L0.18,0.18L-0.18,0.18Z","symbolSize":484,"symbolStrokeWidth":2.5}}}},
  {"data":{"name":"c"},"transform":[{"filter":"datum.s==='0% RH'"}],"mark":{"type":"point","shape":"diamond","filled":true,"color":"#4f81bd","size":30,"opacity":1},"encoding":{"x":{"field":"x","type":"quantitative","axis":{"values":[10,100,1000],"format":"d","title":"Particle diameter, nm","labelOverlap":false}},"y":{"field":"y","type":"quantitative","axis":{"values":[0,0.05,0.1],"format":".3~f","title":"Relative number","labelOverlap":false}}}},
  {"data":{"name":"c"},"transform":[{"filter":"datum.s==='25% RH'"}],"mark":{"type":"point","shape":"square","filled":true,"color":"#c0504d","size":24,"opacity":1},"encoding":{"x":{"field":"x","type":"quantitative","axis":{"values":[10,100,1000],"format":"d","title":"Particle diameter, nm","labelOverlap":false}},"y":{"field":"y","type":"quantitative","axis":{"values":[0,0.05,0.1],"format":".3~f","title":"Relative number","labelOverlap":false}}}},
  {"data":{"name":"c"},"transform":[{"filter":"datum.s==='50% RH'"}],"mark":{"type":"point","shape":"triangle-up","filled":true,"color":"#9bbb59","size":28,"opacity":1},"encoding":{"x":{"field":"x","type":"quantitative","axis":{"values":[10,100,1000],"format":"d","title":"Particle diameter, nm","labelOverlap":false}},"y":{"field":"y","type":"quantitative","axis":{"values":[0,0.05,0.1],"format":".3~f","title":"Relative number","labelOverlap":false}}}},
  {"data":{"name":"c"},"transform":[{"filter":"datum.s==='75% RH'"}],"mark":{"type":"point","shape":"circle","filled":true,"color":"#8064a2","size":24,"opacity":1},"encoding":{"x":{"field":"x","type":"quantitative","axis":{"values":[10,100,1000],"format":"d","title":"Particle diameter, nm","labelOverlap":false}},"y":{"field":"y","type":"quantitative","axis":{"values":[0,0.05,0.1],"format":".3~f","title":"Relative number","labelOverlap":false}}}},
  {"data":{"values":[{}]},"mark":{"type":"text","align":"left","baseline":"middle","fontSize":21,"fontWeight":"bold","font":"Lato","color":"#000"},"encoding":{"x":{"datum":10.6,"type":"quantitative","axis":{"values":[10,100,1000],"format":"d","title":"Particle diameter, nm","labelOverlap":false}},"y":{"datum":0.109,"type":"quantitative","axis":{"values":[0,0.05,0.1],"format":".3~f","title":"Relative number","labelOverlap":false}},"text":{"value":"Hydrophobic, 100 kPa"}}},
  {"data":{"values":[{}]},"mark":{"type":"text","align":"center","baseline":"middle","fontSize":32,"font":"Lato","color":"#000"},"encoding":{"x":{"datum":782,"type":"quantitative","axis":{"values":[10,100,1000],"format":"d","title":"Particle diameter, nm","labelOverlap":false}},"y":{"datum":0.104,"type":"quantitative","axis":{"values":[0,0.05,0.1],"format":".3~f","title":"Relative number","labelOverlap":false}},"text":{"value":"c"}}},
  {"data":{"values":[{}]},"mark":{"type":"text","align":"center","baseline":"middle","fontSize":22,"font":"Lato","color":"#e31e24"},"encoding":{"x":{"datum":430,"type":"quantitative","axis":{"values":[10,100,1000],"format":"d","title":"Particle diameter, nm","labelOverlap":false}},"y":{"datum":0.0865,"type":"quantitative","axis":{"values":[0,0.05,0.1],"format":".3~f","title":"Relative number","labelOverlap":false}},"text":{"value":"Peak"}}},
  {"data":{"values":[{}]},"mark":{"type":"rule","color":"#e31e24","strokeWidth":2},"encoding":{"x":{"datum":270,"type":"quantitative","axis":{"values":[10,100,1000],"format":"d","title":"Particle diameter, nm","labelOverlap":false}},"y":{"datum":0.0902,"type":"quantitative","axis":{"values":[0,0.05,0.1],"format":".3~f","title":"Relative number","labelOverlap":false}},"x2":{"datum":348},"y2":{"datum":0.1033}}},
  {"data":{"values":[{}]},"mark":{"type":"point","shape":"triangle-up","filled":true,"color":"#e31e24","size":55,"angle":45,"opacity":1},"encoding":{"x":{"datum":355,"type":"quantitative","axis":{"values":[10,100,1000],"format":"d","title":"Particle diameter, nm","labelOverlap":false}},"y":{"datum":0.1043,"type":"quantitative","axis":{"values":[0,0.05,0.1],"format":".3~f","title":"Relative number","labelOverlap":false}}}}
 ]
},
{
 "width":447,"height":213,
 "layer":[
  {"data":{"name":"d"},"mark":{"type":"line","strokeWidth":2},"encoding":{
    "x":{"field":"x","type":"quantitative","scale":{"type":"log","domain":[10,1000]},"axis":{"values":[10,100,1000],"format":"d","title":"Particle diameter, nm","labelOverlap":false}},
    "y":{"field":"y","type":"quantitative","scale":{"domain":[0,0.12]},"axis":{"values":[0,0.02,0.04,0.06,0.08,0.1,0.12],"format":".3~f","title":"Relative number","labelOverlap":false}},
    "color":{"field":"s","type":"nominal","scale":{"domain":["0% RH","25% RH","50% RH","75% RH"],"range":["#4f81bd","#c0504d","#9bbb59","#8064a2"]},"legend":{"legendX":6,"legendY":82,"symbolType":"M-1,0L1,0M-0.18,-0.18L0.18,-0.18L0.18,0.18L-0.18,0.18Z","symbolSize":484,"symbolStrokeWidth":2.5}}}},
  {"data":{"name":"d"},"transform":[{"filter":"datum.s==='0% RH'"}],"mark":{"type":"point","shape":"diamond","filled":true,"color":"#4f81bd","size":30,"opacity":1},"encoding":{"x":{"field":"x","type":"quantitative","axis":{"values":[10,100,1000],"format":"d","title":"Particle diameter, nm","labelOverlap":false}},"y":{"field":"y","type":"quantitative","axis":{"values":[0,0.02,0.04,0.06,0.08,0.1,0.12],"format":".3~f","title":"Relative number","labelOverlap":false}}}},
  {"data":{"name":"d"},"transform":[{"filter":"datum.s==='25% RH'"}],"mark":{"type":"point","shape":"square","filled":true,"color":"#c0504d","size":24,"opacity":1},"encoding":{"x":{"field":"x","type":"quantitative","axis":{"values":[10,100,1000],"format":"d","title":"Particle diameter, nm","labelOverlap":false}},"y":{"field":"y","type":"quantitative","axis":{"values":[0,0.02,0.04,0.06,0.08,0.1,0.12],"format":".3~f","title":"Relative number","labelOverlap":false}}}},
  {"data":{"name":"d"},"transform":[{"filter":"datum.s==='50% RH'"}],"mark":{"type":"point","shape":"triangle-up","filled":true,"color":"#9bbb59","size":28,"opacity":1},"encoding":{"x":{"field":"x","type":"quantitative","axis":{"values":[10,100,1000],"format":"d","title":"Particle diameter, nm","labelOverlap":false}},"y":{"field":"y","type":"quantitative","axis":{"values":[0,0.02,0.04,0.06,0.08,0.1,0.12],"format":".3~f","title":"Relative number","labelOverlap":false}}}},
  {"data":{"name":"d"},"transform":[{"filter":"datum.s==='75% RH'"}],"mark":{"type":"point","shape":"circle","filled":true,"color":"#8064a2","size":24,"opacity":1},"encoding":{"x":{"field":"x","type":"quantitative","axis":{"values":[10,100,1000],"format":"d","title":"Particle diameter, nm","labelOverlap":false}},"y":{"field":"y","type":"quantitative","axis":{"values":[0,0.02,0.04,0.06,0.08,0.1,0.12],"format":".3~f","title":"Relative number","labelOverlap":false}}}},
  {"data":{"values":[{}]},"mark":{"type":"text","align":"left","baseline":"middle","fontSize":21,"fontWeight":"bold","font":"Lato","color":"#000"},"encoding":{"x":{"datum":10.4,"type":"quantitative","axis":{"values":[10,100,1000],"format":"d","title":"Particle diameter, nm","labelOverlap":false}},"y":{"datum":0.1104,"type":"quantitative","axis":{"values":[0,0.02,0.04,0.06,0.08,0.1,0.12],"format":".3~f","title":"Relative number","labelOverlap":false}},"text":{"value":"Hydrophilic, 100 kPa"}}},
  {"data":{"values":[{}]},"mark":{"type":"text","align":"center","baseline":"middle","fontSize":32,"font":"Lato","color":"#000"},"encoding":{"x":{"datum":759,"type":"quantitative","axis":{"values":[10,100,1000],"format":"d","title":"Particle diameter, nm","labelOverlap":false}},"y":{"datum":0.1038,"type":"quantitative","axis":{"values":[0,0.02,0.04,0.06,0.08,0.1,0.12],"format":".3~f","title":"Relative number","labelOverlap":false}},"text":{"value":"d"}}},
  {"data":{"values":[{}]},"mark":{"type":"text","align":"center","baseline":"middle","fontSize":22,"font":"Lato","color":"#e31e24"},"encoding":{"x":{"datum":469,"type":"quantitative","axis":{"values":[10,100,1000],"format":"d","title":"Particle diameter, nm","labelOverlap":false}},"y":{"datum":0.0963,"type":"quantitative","axis":{"values":[0,0.02,0.04,0.06,0.08,0.1,0.12],"format":".3~f","title":"Relative number","labelOverlap":false}},"text":{"value":"Peak"}}},
  {"data":{"values":[{}]},"mark":{"type":"rule","color":"#e31e24","strokeWidth":2},"encoding":{"x":{"datum":330,"type":"quantitative","axis":{"values":[10,100,1000],"format":"d","title":"Particle diameter, nm","labelOverlap":false}},"y":{"datum":0.1029,"type":"quantitative","axis":{"values":[0,0.02,0.04,0.06,0.08,0.1,0.12],"format":".3~f","title":"Relative number","labelOverlap":false}},"x2":{"datum":422},"y2":{"datum":0.116}}},
  {"data":{"values":[{}]},"mark":{"type":"point","shape":"triangle-up","filled":true,"color":"#e31e24","size":55,"angle":45,"opacity":1},"encoding":{"x":{"datum":430,"type":"quantitative","axis":{"values":[10,100,1000],"format":"d","title":"Particle diameter, nm","labelOverlap":false}},"y":{"datum":0.117,"type":"quantitative","axis":{"values":[0,0.02,0.04,0.06,0.08,0.1,0.12],"format":".3~f","title":"Relative number","labelOverlap":false}}}}
 ]
}
]
}
